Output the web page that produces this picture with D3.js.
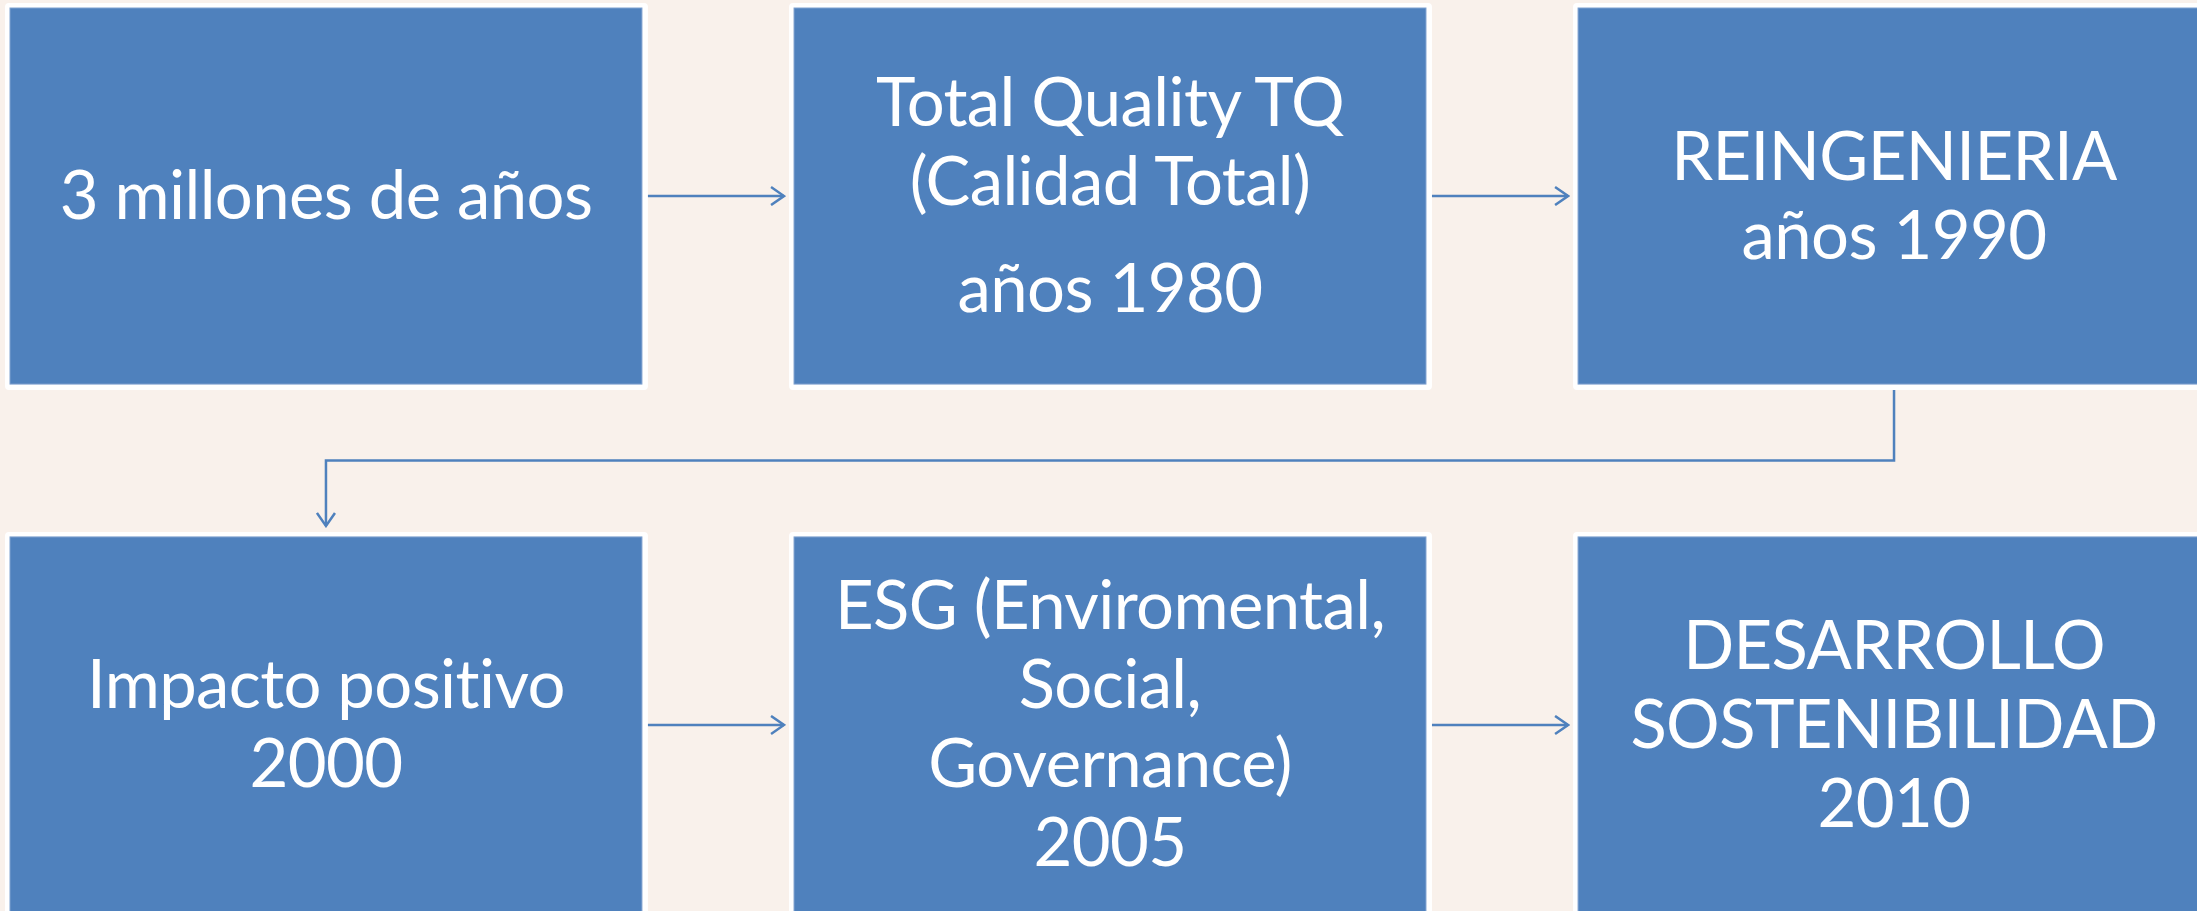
<!DOCTYPE html>
<html>
<head>
<meta charset="utf-8">
<script src="https://cdn.jsdelivr.net/npm/d3@7"></script>
<style>
  html, body { margin: 0; padding: 0; background: #F9F1EB; overflow: hidden; }
  svg { display: block; }
</style>
</head>
<body>
<script>
// pasos del diagrama (fila, columna) y sus textos, "" = salto de parrafo
var columnas = [0, 1, 2];
var filas = [0, 1];
var pasos = [
    {fila: 0, col: 0, lineas: ["3 millones de años"]},
    {fila: 0, col: 1, lineas: ["Total Quality TQ", "(Calidad Total)", "", "años 1980"]},
    {fila: 0, col: 2, lineas: ["REINGENIERIA", "años 1990"]},
    {fila: 1, col: 0, lineas: ["Impacto positivo", "2000"]},
    {fila: 1, col: 1, lineas: ["ESG (Enviromental,", "Social,", "Governance)", "2005"]},
    {fila: 1, col: 2, lineas: ["DESARROLLO", "SOSTENIBILIDAD", "2010"]}
];
// flechas entre pasos (indices)
var flechas = [[0, 1], [1, 2], [3, 4], [4, 5]];
var conector = [2, 3];

function graficar(){
    var w = 2197, h = 911;
    var azul = "#4F81BD";

    var svg = d3.select("body")
        .append("svg")
        .attr("width", w)
        .attr("height", h);

    svg.append("defs").append("marker")
        .attr("id", "punta")
        .attr("viewBox", "0 0 20 20")
        .attr("refX", 18).attr("refY", 10)
        .attr("markerWidth", 20).attr("markerHeight", 20)
        .attr("markerUnits", "userSpaceOnUse")
        .attr("orient", "auto")
        .append("path")
        .attr("d", "M5,1 L18,10 L5,19")
        .attr("fill", "none")
        .attr("stroke", azul)
        .attr("stroke-width", 2.5);

    var x = d3.scaleBand().domain(columnas).range([10, 2210]).paddingInner(0.194);
    var y = d3.scaleBand().domain(filas).range([8, 913]).paddingInner(0.289);
    var bw = x.bandwidth(), bh = y.bandwidth();

    // cajas: borde blanco y relleno azul
    svg.selectAll("rect.borde")
        .data(pasos)
        .enter().append("rect")
        .attr("class", "borde")
        .attr("x", function(d){ return x(d.col) - 5; })
        .attr("y", function(d){ return y(d.fila) - 5; })
        .attr("width", bw + 11)
        .attr("height", bh + 11)
        .attr("rx", 4)
        .attr("fill", "#ffffff");

    svg.selectAll("rect.caja")
        .data(pasos)
        .enter().append("rect")
        .attr("class", "caja")
        .attr("x", function(d){ return x(d.col); })
        .attr("y", function(d){ return y(d.fila); })
        .attr("width", bw)
        .attr("height", bh)
        .attr("fill", azul)
        .attr("stroke", "#7FA1CF")
        .attr("stroke-width", 1);

    // flechas horizontales
    svg.selectAll("line.flecha")
        .data(flechas)
        .enter().append("line")
        .attr("class", "flecha")
        .attr("x1", function(d){ return x(pasos[d[0]].col) + bw + 6; })
        .attr("x2", function(d){ return x(pasos[d[1]].col) - 10; })
        .attr("y1", function(d){ return y(pasos[d[0]].fila) + bh / 2; })
        .attr("y2", function(d){ return y(pasos[d[0]].fila) + bh / 2; })
        .attr("stroke", azul)
        .attr("stroke-width", 2.5)
        .attr("marker-end", "url(#punta)");

    // conector de la fila 1 a la fila 2
    var a = pasos[conector[0]], b = pasos[conector[1]];
    var xa = x(a.col) + bw / 2, xb = x(b.col) + bw / 2;
    var ya = y(a.fila) + bh + 6, yb = y(b.fila) - 11;
    var ym = (y(a.fila) + bh + y(b.fila)) / 2;
    svg.append("path")
        .attr("d", "M" + xa + "," + ya + " V" + ym + " H" + xb + " V" + yb)
        .attr("fill", "none")
        .attr("stroke", azul)
        .attr("stroke-width", 2.5)
        .attr("marker-end", "url(#punta)");

    // textos
    var fs = 67, lh = 79, gap = 28, cap = 23;
    var g = svg.selectAll("g.texto")
        .data(pasos)
        .enter().append("g")
        .attr("class", "texto");

    g.each(function(d){
        var offs = [], pos = 0, first = true;
        d.lineas.forEach(function(l){
            if (l === "") { pos += gap; return; }
            if (!first) pos += lh;
            offs.push({t: l, o: pos});
            first = false;
        });
        var cy = y(d.fila) + bh / 2 - pos / 2 + cap;
        d3.select(this).selectAll("text")
            .data(offs)
            .enter().append("text")
            .text(function(e){ return e.t; })
            .attr("x", x(d.col) + bw / 2)
            .attr("y", function(e){ return cy + e.o; })
            .attr("text-anchor", "middle")
            .attr("fill", "#ffffff")
            .style("font-family", "Lato, 'Open Sans', sans-serif")
            .style("font-size", fs + "px")
            .style("letter-spacing", "-0.6px")
            .style("font-variant-ligatures", "none")
            .style("font-feature-settings", "'liga' 0, 'clig' 0");
    });
}

graficar();
</script>
</body>
</html>
